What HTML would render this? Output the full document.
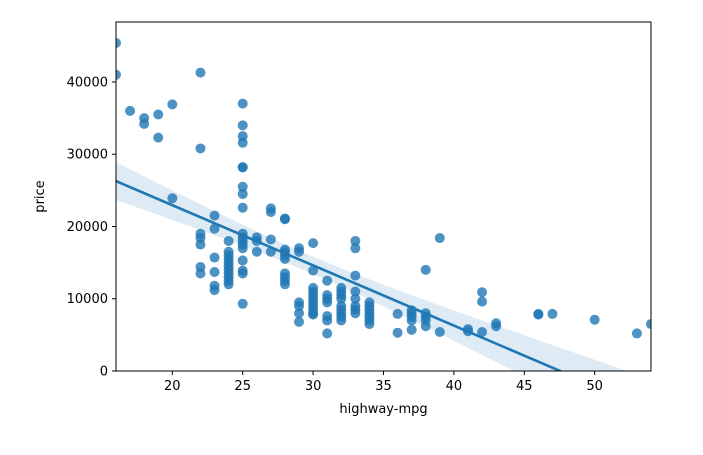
<!DOCTYPE html>
<html><head><meta charset="utf-8"><style>
body{margin:0;background:#fff;font-family:"Liberation Sans","DejaVu Sans",sans-serif}
</style></head><body>
<svg id="chart" width="703" height="450" xmlns="http://www.w3.org/2000/svg" font-family="DejaVu Sans, Liberation Sans, sans-serif">
</svg>
<script>
const mpg=[16,16,17,18,18,19,19,20,20,22,22,22,22,22,22,22,23,23,23,23,23,23,
24,24,24,24,24,24,24,24,24,24,24,
25,25,25,25,25,25,25,25,25,25,25,25,25,25,25,25,25,25,
26,26,26,27,27,27,27,
28,28,28,28,28,28,28,28,28,28,
29,29,29,29,29,29,
30,30,30,30,30,30,30,30,30,30,30,
31,31,31,31,31,31,31,
32,32,32,32,32,32,32,32,32,
33,33,33,33,33,33,33,33,
34,34,34,34,34,34,34,
36,36,37,37,37,37,37,38,38,38,38,38,39,39,41,41,42,42,42,43,43,46,46,47,50,53,54];
const price=[45400,41000,36000,35000,34200,35500,32300,36900,23900,41300,30800,19000,18400,17500,14400,13500,21500,19700,15700,13700,11800,11200,
18000,16500,16000,15500,15000,14500,14000,13000,12500,12000,13500,
37000,34000,32500,31600,28200,28200,25500,24500,22600,19000,18500,18000,17500,17000,15300,13900,13500,9300,
18500,18000,16500,22500,22000,18200,16500,
21100,21000,16800,16500,16000,15500,13500,13000,12500,12000,
17000,16500,9500,9000,8000,6800,
17700,13900,11500,11000,10500,10000,9500,9000,8500,8000,7800,
12500,10500,10000,9500,7600,7000,5200,
11500,11000,10500,10000,9000,8500,8000,7500,7000,
18000,17000,13200,11000,10000,9000,8500,8000,
9500,9000,8500,8000,7500,7000,6500,
7900,5300,8400,8000,7500,7000,5700,8000,7500,7000,6200,14000,18400,5400,5800,5500,10900,9600,5400,6600,6200,7900,7800,7900,7100,5200,6500];
const xTicks=[20,25,30,35,40,45,50];
const yTicks=[0,10000,20000,30000,40000];

const NS="http://www.w3.org/2000/svg";
const svg=document.getElementById('chart');
const L=116,R=651,T=22,B=371,x0=16,x1=54,y0=0,y1=48300;
const sx=v=>L+(v-x0)/(x1-x0)*(R-L);
const sy=v=>B-(v-y0)/(y1-y0)*(B-T);
function mk(t,a){const e=document.createElementNS(NS,t);for(const k in a)e.setAttribute(k,a[k]);svg.appendChild(e);return e;}
const clip=mk('clipPath',{id:'pc'});clip.appendChild(document.createElementNS(NS,'rect'));
const cr=clip.firstChild;cr.setAttribute('x',L);cr.setAttribute('y',T);cr.setAttribute('width',R-L);cr.setAttribute('height',B-T);

const n=mpg.length;let mx=0,my=0;for(let i=0;i<n;i++){mx+=mpg[i];my+=price[i];}mx/=n;my/=n;
let sxx=0,sxy=0;for(let i=0;i<n;i++){sxx+=(mpg[i]-mx)**2;sxy+=(mpg[i]-mx)*(price[i]-my);}
const b=sxy/sxx,a=my-b*mx;let sse=0;for(let i=0;i<n;i++)sse+=(price[i]-a-b*mpg[i])**2;
const s=Math.sqrt(sse/(n-2));
let up=[],lo=[];
for(let k=0;k<=60;k++){const xv=x0+(x1-x0)*k/60;const se=s*Math.sqrt(1/n+(xv-mx)**2/sxx)*1.97*1.15;const yv=a+b*xv;
up.push(sx(xv)+','+sy(yv+se));lo.unshift(sx(xv)+','+sy(yv-se));}
const band=mk('polygon',{points:up.concat(lo).join(' '),fill:'#1f77b4','fill-opacity':0.15,'clip-path':'url(#pc)'});



for(let i=0;i<n;i++){const c=mk('circle',{cx:sx(mpg[i]),cy:sy(price[i]),r:5,fill:'#1f77b4','fill-opacity':0.8,'clip-path':'url(#pc)'});

}

const ln=mk('line',{x1:sx(x0),y1:sy(a+b*x0),x2:sx(x1),y2:sy(a+b*x1),stroke:'#1f77b4','stroke-width':2.6,'clip-path':'url(#pc)'});



const fr=mk('rect',{x:L,y:T,width:R-L,height:B-T,fill:'none',stroke:'#000','stroke-width':1});



xTicks.forEach(v=>{mk('line',{x1:sx(v),x2:sx(v),y1:B,y2:B+4,stroke:'#000'});
const t=mk('text',{x:sx(v),y:B+19,'text-anchor':'middle','font-size':13});t.textContent=v;

});
yTicks.forEach(v=>{mk('line',{x1:L-4,x2:L,y1:sy(v),y2:sy(v),stroke:'#000'});
const t=mk('text',{x:L-8,y:sy(v)+4.5,'text-anchor':'end','font-size':13});t.textContent=v;

});
const xl=mk('text',{x:(L+R)/2,y:413,'text-anchor':'middle','font-size':13});xl.textContent='highway-mpg';


const yl=mk('text',{x:44,y:(T+B)/2,'text-anchor':'middle','font-size':13,transform:'rotate(-90 44 '+((T+B)/2)+')'});yl.textContent='price';


</script>
</body></html>
